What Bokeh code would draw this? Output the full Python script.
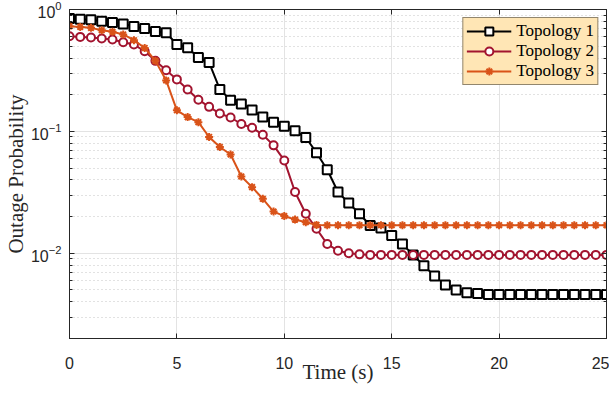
from bokeh.plotting import figure
from bokeh.models import (Range1d, LogAxis, LinearAxis, Legend, LegendItem,
                          FixedTicker, LogTickFormatter)
from bokeh.embed import file_html
from bokeh.resources import INLINE

time_s = [i * 0.5 for i in range(51)]

topology1 = [0.843, 0.832, 0.823, 0.801, 0.782, 0.762, 0.725, 0.698, 0.659, 0.644,
             0.516, 0.485, 0.403, 0.367, 0.221, 0.180, 0.168, 0.150, 0.131, 0.119,
             0.110, 0.101, 0.0893, 0.0668, 0.0485, 0.0318, 0.0258, 0.0211, 0.0169, 0.0161,
             0.0140, 0.0119, 0.0097, 0.0079, 0.0065, 0.0055, 0.0050, 0.00475, 0.00467, 0.0046,
             0.0046, 0.0046, 0.0046, 0.0046, 0.0046, 0.0046, 0.0046, 0.0046, 0.0046, 0.0046,
             0.0046]
topology2 = [0.604, 0.596, 0.589, 0.578, 0.567, 0.539, 0.516, 0.454, 0.379, 0.317,
             0.267, 0.221, 0.182, 0.159, 0.140, 0.130, 0.115, 0.107, 0.094, 0.0768,
             0.0578, 0.0318, 0.0211, 0.0159, 0.0119, 0.0105, 0.0100, 0.0098, 0.0097, 0.0097,
             0.0097, 0.0097, 0.0097, 0.0097, 0.0097, 0.0097, 0.0097, 0.0097, 0.0097, 0.0097,
             0.0097, 0.0097, 0.0097, 0.0097, 0.0097, 0.0097, 0.0097, 0.0097, 0.0097, 0.0097,
             0.0097]
topology3 = [0.729, 0.720, 0.707, 0.676, 0.656, 0.624, 0.560, 0.484, 0.379, 0.262,
             0.149, 0.131, 0.119, 0.090, 0.0745, 0.0647, 0.0427, 0.0349, 0.0280, 0.0220,
             0.0202, 0.0189, 0.0180, 0.0171, 0.0170, 0.0170, 0.0170, 0.0170, 0.0170, 0.0170,
             0.0170, 0.0170, 0.0170, 0.0170, 0.0170, 0.0170, 0.0170, 0.0170, 0.0170, 0.0170,
             0.0170, 0.0170, 0.0170, 0.0170, 0.0170, 0.0170, 0.0170, 0.0170, 0.0170, 0.0170,
             0.0170]

series_names = ["Topology 1", "Topology 2", "Topology 3"]
x_ticks = [0, 5, 10, 15, 20, 25]
y_major = [0.01, 0.1, 1]
y_minor = [m * d for d in (0.001, 0.01, 0.1) for m in range(2, 10)]

AX = "#262626"
SERIF = "Liberation Serif"
SANS = "Liberation Sans"

p = figure(frame_width=537, frame_height=329, x_range=Range1d(0, 25), y_range=Range1d(0.002, 1),
           y_axis_type="log", output_backend="svg", toolbar_location=None,
           min_border_left=60, min_border_right=3, min_border_top=9, min_border_bottom=40)
p.background_fill_color = "white"
p.border_fill_color = "white"
p.outline_line_color = AX
p.outline_line_width = 1

# grids
p.xgrid.ticker = FixedTicker(ticks=x_ticks)
p.xgrid.grid_line_color = "#e3e3e3"
p.ygrid.ticker = FixedTicker(ticks=y_major, minor_ticks=y_minor)
p.ygrid.grid_line_color = "#e3e3e3"
p.ygrid.minor_grid_line_color = "#c4c4c4"
p.ygrid.minor_grid_line_dash = "1 3"

# axes
xa = p.xaxis[0]
xa.ticker = FixedTicker(ticks=x_ticks)
xa.axis_label = "Time (s)"
ya = p.yaxis[0]
ya.ticker = FixedTicker(ticks=y_major, minor_ticks=y_minor)
ya.formatter = LogTickFormatter()
ya.axis_label = "Outage Probability"
for ax in (xa, ya):
    ax.axis_line_color = AX
    ax.major_tick_line_color = AX
    ax.minor_tick_line_color = AX
    ax.major_tick_in = 5
    ax.major_tick_out = 0
    ax.minor_tick_in = 3
    ax.minor_tick_out = 0
    ax.major_label_text_font = SANS
    ax.major_label_text_font_size = "16px"
    ax.major_label_text_color = AX
    ax.axis_label_text_font = SERIF
    ax.axis_label_text_font_style = "normal"
    ax.axis_label_text_color = AX
xa.axis_label_text_font_size = "21px"
ya.axis_label_text_font_size = "21px"
xa.major_label_standoff = 18
xa.axis_label_standoff = -12
ya.major_label_standoff = 8
ya.axis_label_standoff = 0

top = LinearAxis(ticker=FixedTicker(ticks=x_ticks), major_label_text_font_size="1px",
                 major_label_text_color=None,
                 major_label_standoff=0, major_tick_in=5, major_tick_out=0,
                 axis_line_color=AX, major_tick_line_color=AX)
right = LogAxis(ticker=FixedTicker(ticks=y_major, minor_ticks=y_minor),
                major_label_text_font_size="1px", major_label_text_color=None,
                major_label_standoff=0,
                major_tick_in=5, major_tick_out=0, minor_tick_in=3, minor_tick_out=0,
                axis_line_color=AX, major_tick_line_color=AX, minor_tick_line_color=AX)
p.add_layout(top, "above")
p.add_layout(right, "right")

colors = ["#000000", "#A2142F", "#D95319"]
markers = ["square", "circle", "asterisk"]
sizes = [9, 8, 8]
values = [topology1, topology2, topology3]

items = []
for name, col, mk, sz, ys in zip(series_names, colors, markers, sizes, values):
    ln = p.line(time_s, ys, line_color=col, line_width=2)
    sc = p.scatter(time_s, ys, marker=mk, size=sz, line_color=col, line_width=2,
                   fill_color="white")
    items.append(LegendItem(label=name, renderers=[ln, sc]))

legend = Legend(items=items, location="top_right", margin=8, padding=3, spacing=0,
                glyph_width=45, glyph_height=20, label_height=20, label_standoff=5,
                label_text_font=SERIF, label_text_font_size="17px", label_text_color="black",
                background_fill_color="#FFE6B5", background_fill_alpha=1.0,
                border_line_color="#262626", border_line_width=1)
p.add_layout(legend, "center")

open("out.html", "w").write(file_html(p, INLINE))
